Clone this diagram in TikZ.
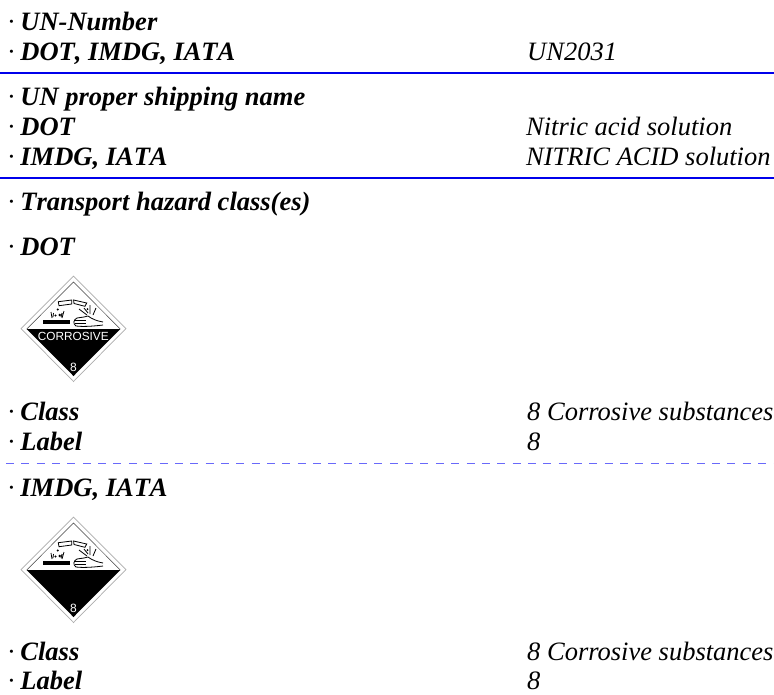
\documentclass[tikz,border=0pt]{standalone}
\usepackage{fontspec}
\setmainfont[BoldItalicFeatures={Kerning=Off}]{Liberation Serif}
\setsansfont{Liberation Sans}
\definecolor{rule}{RGB}{0,0,235}
\definecolor{dashrule}{RGB}{105,105,250}
\tikzset{
  lab/.style={anchor=base west,inner sep=0pt,font=\fontsize{26.5}{30}\selectfont\bfseries\itshape},
  val/.style={anchor=base west,inner sep=0pt,font=\fontsize{26.5}{30}\selectfont\itshape},
  sep/.style={rule,line width=1.4pt},
  dsep/.style={dashrule,line width=1.5pt,dash pattern=on 8pt off 7.35pt},
  ink/.style={black,line width=.8pt}
}
\newcommand{\lbl}[3]{\node[lab] (#1) at (7,#2) {\textmd{\textup{·}}\hspace{4.4pt}#3};}
\newcommand{\placard}[3]{%
\begin{scope}[shift={(0,#1)}]
  \draw[gray!65,line width=.7pt,fill=white] (21,569.5)--(73.5,517)--(126,569.5)--(73.5,622.5)--cycle;
  \draw[black!75,line width=.5pt] (26.7,570)--(73.5,523)--(120.3,570);
  \fill[black] (26.7,570)--(120.3,570)--(73.5,617)--cycle;
  % tubes
  \draw[ink] (58.3,542.7)--(71.7,541)--(71.7,545)--(59,546.7)--cycle;
  \draw[ink] (73.6,541)--(86.7,544)--(85,547.3)--(74,544.5)--cycle;
  % bar and drops
  \fill (43.3,561) rectangle (70,565);
  \fill (57.7,550.5) circle (1.1) (55.5,556.5) circle (1.2) (59.8,556) circle (1.4);
  \draw[ink] (51,553)--(52,559) (53.5,554)--(53,558) (64,552)--(62,559) (62,554)--(61,558);
  % hand
  \draw[ink,fill=white] (103,566) .. controls (95,567) and (84,568) .. (76,567) .. controls (73,565) and (73,561) .. (77,559) -- (84,558) -- (88,557) .. controls (92,560) and (97,562) .. (103,563);
  \draw[ink] (75,561.5)--(86,561.5) (75,564.3)--(86,564.3);
  \draw[ink] (79,550)--(87,556) (84,549)--(88,554) (90,546)--(90,555) (96,549)--(93,556);
  \fill (87.5,550) circle (1);
  #3
  \node[inner sep=0pt,font=\sffamily\fontsize{12}{12}\selectfont,text=white] (#2n) at (73.5,608) {8};
\end{scope}}
\begin{document}
\begin{tikzpicture}[x=1pt,y=-1pt]
\useasboundingbox (0,0) rectangle (774,694);
\lbl{a}{30}{UN-Number}
\lbl{b}{60}{DOT, IMDG, IATA}
\node[val] (b2) at (527,60) {UN2031};
\coordinate (l1a) at (0,73); \coordinate (l1b) at (774,73);
\draw[sep] (l1a)--(l1b);
\lbl{c}{105}{UN proper shipping name}
\lbl{d}{135}{DOT}
\node[val] (d2) at (526,135) {Nitric acid solution};
\lbl{e}{165}{IMDG, IATA}
\node[val] (e2) at (526,165) {NITRIC ACID solution};
\coordinate (l2a) at (0,178); \coordinate (l2b) at (774,178);
\draw[sep] (l2a)--(l2b);
\lbl{f}{210}{Transport hazard class(es)}
\lbl{g}{255}{DOT}
\placard{-241}{p1}{\node[inner sep=0pt,font=\sffamily\fontsize{11.8}{12}\selectfont,text=white] (p1t) at (73.3,577) {CORROSIVE};}
\lbl{h}{420}{Class}
\node[val] (h2) at (527,420) {8 Corrosive substances};
\lbl{i}{450}{Label}
\node[val] (i2) at (527,450) {8};
\coordinate (l3a) at (6,463.3); \coordinate (l3b) at (774,463.3);
\draw[dsep] (l3a)--(l3b);
\lbl{j}{496}{IMDG, IATA}
\placard{0}{p2}{}
\lbl{k}{660}{Class}
\node[val] (k2) at (527,660) {8 Corrosive substances};
\lbl{m}{689}{Label}
\node[val] (m2) at (527,689) {8};
\end{tikzpicture}
\end{document}
